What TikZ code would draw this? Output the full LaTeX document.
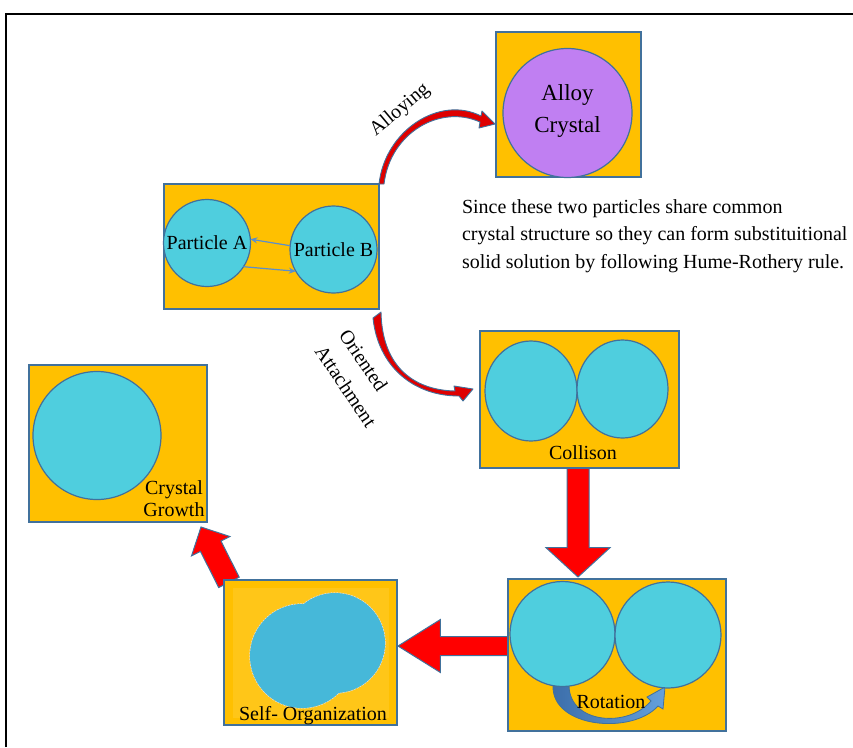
\documentclass[tikz,border=0pt]{standalone}
\usepackage{fontspec}
\setmainfont{Liberation Serif}
\usetikzlibrary{shapes.geometric,shapes.arrows,arrows.meta,calc,backgrounds}
\definecolor{boxfill}{RGB}{255,192,0}
\definecolor{boxline}{RGB}{65,113,156}
\definecolor{ballfill}{RGB}{79,206,222}
\definecolor{alloyfill}{RGB}{192,127,242}
\definecolor{blobfill}{RGB}{70,184,217}
\definecolor{selfinner}{RGB}{255,198,24}
\definecolor{crescred}{RGB}{222,0,0}
\definecolor{steel}{RGB}{91,142,204}
\definecolor{rotdark}{RGB}{60,110,170}
\definecolor{rotlight}{RGB}{100,160,220}
\begin{document}
\begin{tikzpicture}[x=1pt,y=-1pt,
  box/.style={rectangle, draw=boxline, line width=1.2pt, fill=boxfill, inner sep=0, outer sep=0},
  ball/.style={circle, draw=boxline, line width=1.2pt, fill=ballfill, inner sep=0, outer sep=0},
  oval/.style={ellipse, draw=boxline, line width=1.2pt, fill=ballfill, inner sep=0, outer sep=0},
  lbl/.style={font=\fontsize{20}{24}\selectfont, text=black, inner sep=0, outer sep=0},
  blockarrow/.style={single arrow, draw=boxline, line width=1pt, fill=red, outer sep=0, minimum width=1pt},
  crescent/.style={draw=boxline, line width=0.9pt, fill=crescred, line join=round},
  parr/.style={draw=steel, line width=1.2pt, -{Stealth[length=7pt,width=6pt]}}
]
\useasboundingbox (0,0) rectangle (853,747);
% frame
\coordinate (frA) at (6,747);
\coordinate (frB) at (6,14);
\coordinate (frC) at (853,14);
\draw[line width=2pt, black] (frA) -- (frB) -- (frC);

% boxes
\node[box, minimum width=215, minimum height=125] (pbox) at (271.5,246.5) {};
\node[box, minimum width=145, minimum height=145] (abox) at (568.5,104.5) {};
\node[box, minimum width=199, minimum height=137] (coll) at (579.5,399.5) {};
\node[box, minimum width=218, minimum height=152] (rot) at (617,655) {};
\node[box, minimum width=173, minimum height=145] (self) at (310.5,652.5) {};
\node[box, minimum width=178, minimum height=157] (grow) at (118,443.5) {};

% self-organization inner shade
\fill[selfinner] (233,588) rectangle (389,718);

% rotation arrow
\draw[draw=boxline, line width=0.8pt, left color=rotdark, right color=rotlight]
  (569,686) .. controls (570,724) and (628,728) .. (651,701)
  -- (647,697) -- (665,687) -- (663,709) -- (658,706)
  .. controls (632,735) and (552,728) .. (553,686) -- cycle;

% particles
\node[ball, minimum size=87] (pa) at (207,243) {};
\node[ball, minimum size=87] (pb) at (333.5,249.5) {};
\node[circle, draw=boxline, line width=1.2pt, fill=alloyfill, inner sep=0, outer sep=0, minimum size=129] (ac) at (567.5,113) {};
\node[oval, minimum width=92, minimum height=100] (c1) at (531,391) {};
\node[oval, minimum width=91, minimum height=98] (c2) at (622.5,389) {};
\node[ball, minimum size=105] (r1) at (562.5,634) {};
\node[ball, minimum size=106] (r2) at (668,635) {};
\node[ball, minimum size=128] (g1) at (97,435.5) {};

% blob (merged particles)
\draw[draw=white!75!gray, line width=1.4pt, dash pattern=on 2pt off 1pt] (302,656) circle[radius=52] (335,643) circle[radius=50];
\fill[blobfill] (302,656) circle[radius=52] (335,643) circle[radius=50];
\node[inner sep=0] (blob) at (316,650) {};

% arrows between particles
\draw[parr] (pb.175) -- (pa.5);
\draw[parr] (pa.-33) -- (pb.210);

% labels
\node[lbl] (la) at (pa.center) {Particle A};
\node[lbl] (lb) at (pb.center) {Particle B};
\node[lbl, font=\fontsize{23}{32}\selectfont, align=center] (lac) at (567.5,111) {Alloy\\Crystal};
\node[lbl] (lcol) at (583,453) {Collison};
\node[lbl] (lrot) at (611,702) {Rotation};
\node[lbl] (lself) at (313,716) {Self- Organization};
\node[lbl, font=\fontsize{20}{22}\selectfont, align=center] (lgrow) at (174,499) {Crystal\\Growth};
\node[lbl, rotate=40] (lalloy) at (400,110) {Alloying};
\node[lbl, rotate=-56, font=\fontsize{20}{29}\selectfont, align=left] (lori) at (358,378) {Oriented\\Attachment};
\node[lbl, anchor=base west] (d1) at (462,213) {Since these two particles share common};
\node[lbl, anchor=base west] (d2) at (462,240) {crystal structure so they can form substituitional};
\node[lbl, anchor=base west] (d3) at (462,268) {solid solution by following Hume-Rothery rule.};

% connectors on background
\begin{pgfonlayer}{background}
\node[blockarrow, rotate=-90, minimum height=109, inner sep=10.5pt, single arrow head extend=21pt, single arrow tip angle=95, anchor=tip] (a1) at ($(rot.north)+(-39,-2)$) {};
\node[blockarrow, rotate=180, minimum height=110, inner sep=9pt, single arrow head extend=17pt, single arrow tip angle=64, anchor=tip] (a2) at ($(self.east)+(1,-6.5)$) {};
\node[blockarrow, rotate=116.8, minimum height=62, inner sep=11pt, single arrow head extend=10pt, single arrow tip angle=90, anchor=tip] (a3) at ($(grow.south east)+(-6,5)$) {};
\draw[crescent] (pbox.north east) .. controls (385,130) and (440,95) .. (481,116)
  -- (482,111) -- (495,124) -- (479,128) -- (480,122)
  .. controls (440,104) and (390,133) .. (384,184) -- cycle;
\draw[crescent] ($(pbox.south east)+(2,3)$) .. controls (382,365) and (412,390) .. (455,391)
  -- (454,386) -- (473,389) -- (463,401) -- (459,396)
  .. controls (413,396) and (378,366) .. (373,318) -- cycle;
\end{pgfonlayer}
\end{tikzpicture}
\end{document}
